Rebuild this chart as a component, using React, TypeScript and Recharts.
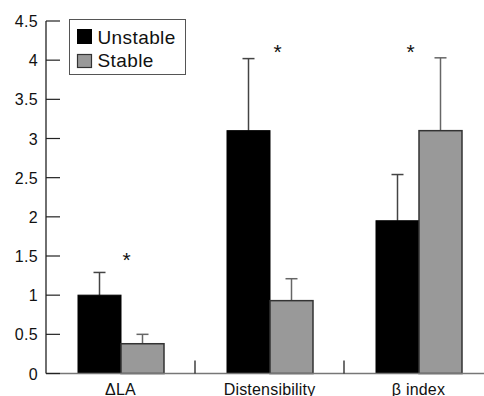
import React from 'react';
import { ComposedChart, Bar, XAxis, YAxis, Scatter, Legend } from 'recharts';

const categories = ['ΔLA', 'Distensibility', 'β index'];
const unstableValues = [1.0, 3.1, 1.95];
const unstableErrors = [0.29, 0.92, 0.59];
const stableValues = [0.38, 0.93, 3.1];
const stableErrors = [0.12, 0.28, 0.93];
const starLevels = [1.51, 4.17, 4.17];
const yTicks = [0, 0.5, 1, 1.5, 2, 2.5, 3, 3.5, 4, 4.5];
const yTickLabels = ['0', '0.5', '1', '1.5', '2', '2.5', '3', '3.5', '4', '4.5'];
const seriesNames = ['Unstable', 'Stable'];

const starShift = [6, 8, -8];
const FONT = "'Liberation Sans', Arial, Helvetica, sans-serif";

const data = categories.map((name, i) => ({
  name,
  unstable: unstableValues[i],
  unstableErr: unstableErrors[i],
  stable: stableValues[i],
  stableErr: stableErrors[i],
  star: starLevels[i],
}));

const YTick = (props: any) => {
  const { x, y, payload } = props;
  return (
    <g>
      <line x1={x} x2={x + 14} y1={y} y2={y} stroke="#222" strokeWidth={1.2} />
      <text x={x - 8} y={y + 6} textAnchor="end" fontSize={16} fontFamily={FONT} fill="#111" letterSpacing={0.3}>
        {yTickLabels[yTicks.indexOf(payload.value)] ?? payload.value}
      </text>
    </g>
  );
};

const XTick = (props: any) => {
  const { x, y, payload, index } = props;
  return (
    <g>
      {index > 0 && (
        <line x1={x - 74.5} x2={x - 74.5} y1={y} y2={y - 13} stroke="#222" strokeWidth={1.3} />
      )}
      <text x={x} y={y + 21} textAnchor="middle" fontSize={16} fontFamily={FONT} fill="#111" letterSpacing={0.2}>
        {payload.value}
      </text>
    </g>
  );
};

const makeBarShape = (fill: string, stroke: string, sw: number, errKey: string, errColor: string) => (props: any) => {
  const { x, y, width, height, payload, value } = props;
  const v = Array.isArray(value) ? value[1] - value[0] : value;
  const perUnit = v ? height / v : 0;
  const err = payload[errKey] ?? 0;
  const topY = y - err * perUnit;
  const cx = x + width / 2;
  return (
    <g>
      <line x1={cx} x2={cx} y1={y} y2={topY} stroke={errColor} strokeWidth={1.5} />
      <line x1={cx - 6} x2={cx + 6} y1={topY} y2={topY} stroke={errColor} strokeWidth={1.5} />
      <rect x={x} y={y} width={width} height={height} fill={fill} stroke={stroke} strokeWidth={sw} />
    </g>
  );
};

const UnstableShape = makeBarShape('#000', '#000', 1, 'unstableErr', '#444');
const StableShape = makeBarShape('#999', '#333', 1.5, 'stableErr', '#666');

const Star = (props: any) => {
  const { cx, cy, payload } = props;
  const i = categories.indexOf(payload?.name);
  return (
    <text x={cx + (starShift[i] ?? 0)} y={cy + 12} textAnchor="middle" fontSize={21} fontFamily={FONT} fill="#111">
      *
    </text>
  );
};

const LegendBox = () => (
  <svg width={117} height={56} style={{ display: 'block' }}>
    <rect x={0.5} y={0.5} width={116} height={55} fill="#fff" stroke="#555" strokeWidth={1} />
    <rect x={8.5} y={10.5} width={14} height={14} fill="#000" stroke="#000" />
    <text x={28.5} y={25} fontSize={19} fontFamily={FONT} fill="#111" letterSpacing={0.4}>
      {seriesNames[0]}
    </text>
    <rect x={8.5} y={35.5} width={14} height={13} fill="#999" stroke="#333" strokeWidth={1.2} />
    <text x={28.5} y={48} fontSize={19} fontFamily={FONT} fill="#111" letterSpacing={0.4}>
      {seriesNames[1]}
    </text>
  </svg>
);

export default function App() {
  return (
    <div style={{ position: 'absolute', left: 0, top: 0, width: 484, height: 396, overflow: 'hidden', background: '#fff' }}>
      <ComposedChart
        width={500}
        height={396}
        data={data}
        margin={{ top: 21, right: 7, bottom: 0, left: 0 }}
        barGap={0}
      >
        <XAxis
          dataKey="name"
          height={22.5}
          tickSize={0}
          tickMargin={0}
          tickLine={false}
          axisLine={{ stroke: '#777', strokeWidth: 1.5 }}
          tick={<XTick />}
          interval={0}
        />
        <YAxis
          width={46}
          domain={[0, 4.5]}
          ticks={yTicks}
          tickSize={0}
          tickMargin={0}
          tickLine={false}
          axisLine={{ stroke: '#222', strokeWidth: 1.3 }}
          tick={<YTick />}
          interval={0}
        />
        <Legend
          layout="horizontal"
          verticalAlign="middle"
          align="center"
          content={() => <LegendBox />}
          wrapperStyle={{ position: 'absolute', left: 69, top: 19, width: 117, height: 56 }}
        />
        <Bar dataKey="unstable" name={seriesNames[0]} fill="#000" barSize={43} shape={UnstableShape} isAnimationActive={false} />
        <Bar dataKey="stable" name={seriesNames[1]} fill="#999" barSize={43} shape={StableShape} isAnimationActive={false} />
        <Scatter dataKey="star" shape={<Star />} isAnimationActive={false} legendType="none" />
      </ComposedChart>
    </div>
  );
}
